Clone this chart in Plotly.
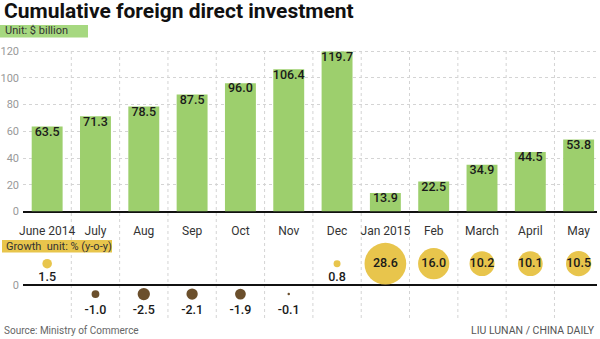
import numpy as np
import plotly.graph_objects as go

months = ["June 2014", "July", "Aug", "Sep", "Oct", "Nov", "Dec",
          "Jan 2015", "Feb", "March", "April", "May"]
fdi = [63.5, 71.3, 78.5, 87.5, 96.0, 106.4, 119.7, 13.9, 22.5, 34.9, 44.5, 53.8]
growth = [1.5, -1.0, -2.5, -2.1, -1.9, -0.1, 0.8, 28.6, 16.0, 10.2, 10.1, 10.5]
y_ticks = [0, 20, 40, 60, 80, 100, 120]

W, H = 600, 339
def py(p):
    return 1 - p / H

GREEN = "#9dcf6d"
YELLOW = "#e8c54c"
BROWN = "#6b4f2c"
FONT = "Roboto"

x = list(range(len(months)))
g = np.array(growth)
sizes = 7.8 * np.sqrt(np.abs(g))
POS_ROW, NEG_ROW = 0.95, -0.40
rows = np.where(g >= 0, POS_ROW, NEG_ROW)
colors = [YELLOW if v >= 0 else BROWN for v in growth]

fig = go.Figure()
fig.add_trace(go.Bar(x=x, y=fdi, marker=dict(color=GREEN, line=dict(width=0)),
                     width=0.64, xaxis="x", yaxis="y", hoverinfo="skip"))
fig.add_trace(go.Scatter(x=x, y=fdi, mode="text", text=[f"{v:.1f}" for v in fdi],
                         textposition="bottom center",
                         textfont=dict(family=FONT, size=12.5, color="#1a1a1a", weight=500),
                         xaxis="x", yaxis="y", cliponaxis=False, hoverinfo="skip"))

fig.add_trace(go.Scatter(x=x, y=rows, mode="markers",
                         marker=dict(size=sizes, color=colors, line=dict(width=0), opacity=1),
                         xaxis="x2", yaxis="y2", cliponaxis=False, hoverinfo="skip"))
lab_y = []
for v in growth:
    if v >= 5:
        lab_y.append(POS_ROW)
    elif v >= 0:
        lab_y.append(0.31)
    else:
        lab_y.append(-1.15)
fig.add_trace(go.Scatter(x=x, y=lab_y, mode="text", text=[f"{v:.1f}" for v in growth],
                         textposition="middle center",
                         textfont=dict(family=FONT, size=12.5, color="#1a1a1a", weight=500),
                         xaxis="x2", yaxis="y2", cliponaxis=False, hoverinfo="skip"))

xdom = [23 / W, 597 / W]
xr = [-0.5, 11.38]

shapes = []
for i in range(len(months) - 1):
    shapes.append(dict(type="line", xref="x", yref="paper", x0=i + 0.5, x1=i + 0.5,
                       y0=py(318), y1=py(50), line=dict(color="#d4d4d4", width=1, dash="dot"),
                       layer="below"))
shapes.append(dict(type="rect", xref="paper", yref="paper", x0=0, x1=88 / W,
                   y0=py(37.5), y1=py(25), fillcolor="#a6d880", line=dict(width=0)))
shapes.append(dict(type="rect", xref="paper", yref="paper", x0=2 / W, x1=112 / W,
                   y0=py(252.5), y1=py(240), fillcolor=YELLOW, line=dict(width=0)))

annotations = [
    dict(text="<b>Cumulative foreign direct investment</b>", x=2 / W, y=py(11), xref="paper",
         yref="paper", xanchor="left", yanchor="middle", showarrow=False,
         font=dict(family=FONT, size=21, color="#111", weight=900)),
    dict(text="Unit: $ billion", x=3 / W, y=py(31), xref="paper", yref="paper",
         xanchor="left", yanchor="middle", showarrow=False,
         font=dict(family=FONT, size=11, color="#333")),
    dict(text="Growth  unit: % (y-o-y)", x=4 / W, y=py(246), xref="paper", yref="paper",
         xanchor="left", yanchor="middle", showarrow=False,
         font=dict(family=FONT, size=11, color="#333")),
    dict(text="Source: Ministry of Commerce", x=2 / W, y=py(330), xref="paper", yref="paper",
         xanchor="left", yanchor="middle", showarrow=False,
         font=dict(family=FONT, size=10, color="#666")),
    dict(text="LIU LUNAN / CHINA DAILY", x=597 / W, y=py(330), xref="paper", yref="paper",
         xanchor="right", yanchor="middle", showarrow=False,
         font=dict(family=FONT, size=10.5, color="#555")),
]

fig.update_layout(
    width=W, height=H, margin=dict(l=0, r=0, t=0, b=0, autoexpand=False),
    paper_bgcolor="white", plot_bgcolor="white", showlegend=False,
    xaxis=dict(domain=xdom, range=xr, tickvals=x, ticktext=months, showgrid=False,
               zeroline=False, showline=False, ticks="", anchor="y", ticklabelstandoff=10,
               automargin=False,
               tickfont=dict(family=FONT, size=12, color="#333")),
    yaxis=dict(domain=[py(211.5), py(49.7)], range=[0, 121], tickvals=y_ticks,
               showgrid=True, gridcolor="#d4d4d4", griddash="dot", gridwidth=1,
               zeroline=True, zerolinecolor="#111", zerolinewidth=2, showline=False,
               ticks="", ticklabelstandoff=3, anchor="x", automargin=False,
               tickfont=dict(family=FONT, size=11, color="#999")),
    xaxis2=dict(domain=xdom, range=xr, showticklabels=False, showgrid=False,
                zeroline=False, showline=False, ticks="", anchor="y2", automargin=False),
    yaxis2=dict(domain=[py(320), py(240)], range=[-1.55, 2.0], tickvals=[0], ticktext=["0"],
                showgrid=False, zeroline=True, zerolinecolor="#111", zerolinewidth=2,
                showline=False, ticks="", ticklabelstandoff=3, anchor="x2", automargin=False,
                tickfont=dict(family=FONT, size=11, color="#999")),
    shapes=shapes, annotations=annotations,
)

fig.write_html("out.html")
